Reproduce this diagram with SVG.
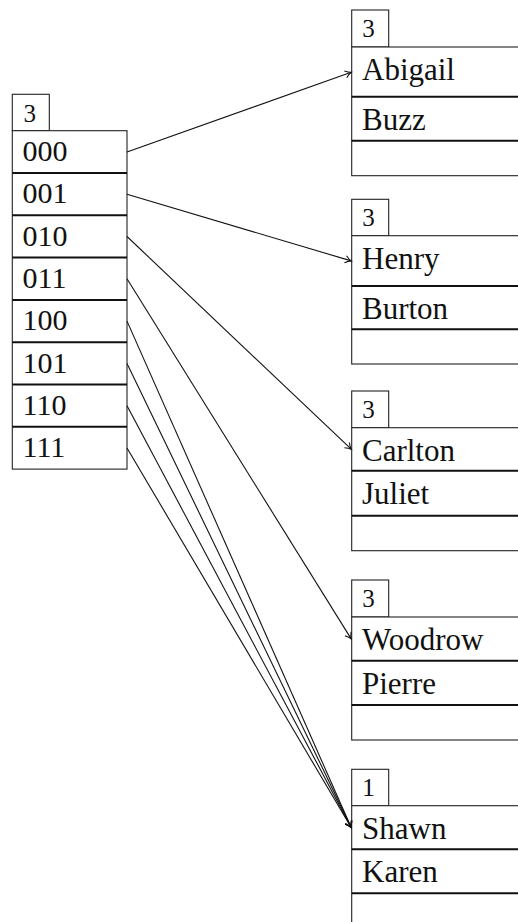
<svg xmlns="http://www.w3.org/2000/svg" width="518" height="922" viewBox="0 0 518 922">
<style>
.box{fill:#fff;stroke:#222;stroke-width:1.1}
.div{stroke:#111;stroke-width:2}
text{font-family:'Liberation Serif','Times New Roman',serif;fill:#111}
.t{font-size:30px}
.n{font-size:31px}
.h{font-size:25px}
.c{stroke:#111;stroke-width:1.1;fill:none;marker-end:url(#ah)}
</style>
<defs>
<marker id="ah" markerUnits="userSpaceOnUse" markerWidth="12" markerHeight="12" viewBox="-8 -6 10 12" refX="0" refY="0" orient="auto">
<path d="M-6,-3.6 Q-2.5,-0.8 0,0 Q-2.5,0.8 -6,3.6" fill="none" stroke="#111" stroke-width="1.1"/>
</marker>
</defs>

<g id="directory">
<rect class="box" x="12.3" y="94.3" width="37" height="36.4"/>
<text class="h" x="23.5" y="121.7">3</text>
<rect class="box" x="12.3" y="130.7" width="114.7" height="338.4"/>
<line class="div" x1="12.3" y1="173" x2="127" y2="173"/>
<line class="div" x1="12.3" y1="215.3" x2="127" y2="215.3"/>
<line class="div" x1="12.3" y1="257.6" x2="127" y2="257.6"/>
<line class="div" x1="12.3" y1="299.9" x2="127" y2="299.9"/>
<line class="div" x1="12.3" y1="342.2" x2="127" y2="342.2"/>
<line class="div" x1="12.3" y1="384.5" x2="127" y2="384.5"/>
<line class="div" x1="12.3" y1="426.8" x2="127" y2="426.8"/>
<text class="t" x="22.5" y="161">000</text>
<text class="t" x="22.5" y="203.3">001</text>
<text class="t" x="22.5" y="245.6">010</text>
<text class="t" x="22.5" y="287.9">011</text>
<text class="t" x="22.5" y="330.2">100</text>
<text class="t" x="22.5" y="372.5">101</text>
<text class="t" x="22.5" y="414.8">110</text>
<text class="t" x="22.5" y="457.1">111</text>
</g>

<g id="bucket1">
<rect class="box" x="351.7" y="10" width="37" height="37"/>
<text class="h" x="362.3" y="36.7">3</text>
<rect class="box" x="351.7" y="47" width="200" height="128.7"/>
<line class="div" x1="351.7" y1="96.7" x2="520" y2="96.7"/>
<line class="div" x1="351.7" y1="140.7" x2="520" y2="140.7"/>
<text class="n" x="362" y="80">Abigail</text>
<text class="n" x="362" y="130">Buzz</text>
</g>

<g id="bucket2">
<rect class="box" x="351.7" y="199.3" width="37" height="36.4"/>
<text class="h" x="362.3" y="226">3</text>
<rect class="box" x="351.7" y="235.7" width="200" height="128.3"/>
<line class="div" x1="351.7" y1="286" x2="520" y2="286"/>
<line class="div" x1="351.7" y1="329.3" x2="520" y2="329.3"/>
<text class="n" x="362" y="269">Henry</text>
<text class="n" x="362" y="319">Burton</text>
</g>

<g id="bucket3">
<rect class="box" x="351.7" y="391" width="37" height="36.7"/>
<text class="h" x="362.3" y="417.7">3</text>
<rect class="box" x="351.7" y="427.7" width="200" height="123"/>
<line class="div" x1="351.7" y1="470.7" x2="520" y2="470.7"/>
<line class="div" x1="351.7" y1="515.7" x2="520" y2="515.7"/>
<text class="n" x="362" y="460.7">Carlton</text>
<text class="n" x="362" y="504">Juliet</text>
</g>

<g id="bucket4">
<rect class="box" x="351.7" y="580" width="37" height="37"/>
<text class="h" x="362.3" y="606.7">3</text>
<rect class="box" x="351.7" y="617" width="200" height="123"/>
<line class="div" x1="351.7" y1="660.7" x2="520" y2="660.7"/>
<line class="div" x1="351.7" y1="705" x2="520" y2="705"/>
<text class="n" x="362" y="650">Woodrow</text>
<text class="n" x="362" y="693.5">Pierre</text>
</g>

<g id="bucket5">
<rect class="box" x="351.7" y="769.3" width="37" height="36.4"/>
<text class="h" x="362.3" y="796">1</text>
<rect class="box" x="351.7" y="805.7" width="200" height="140"/>
<line class="div" x1="351.7" y1="849.3" x2="520" y2="849.3"/>
<line class="div" x1="351.7" y1="893.3" x2="520" y2="893.3"/>
<text class="n" x="362" y="839">Shawn</text>
<text class="n" x="362" y="882.3">Karen</text>
</g>

<g id="connectors">
<line class="c" x1="127" y1="151.9" x2="351.2" y2="72.3"/>
<line class="c" x1="127" y1="194.2" x2="351.2" y2="260.9"/>
<line class="c" x1="127" y1="236.5" x2="351.2" y2="449.2"/>
<line class="c" x1="127" y1="278.8" x2="351.2" y2="638.9"/>
<line class="c" x1="127" y1="321.1" x2="351.2" y2="827.5"/>
<line class="c" x1="127" y1="363.4" x2="351.2" y2="827.5"/>
<line class="c" x1="127" y1="405.7" x2="351.2" y2="827.5"/>
<line class="c" x1="127" y1="448" x2="351.2" y2="827.5"/>
</g>
</svg>
